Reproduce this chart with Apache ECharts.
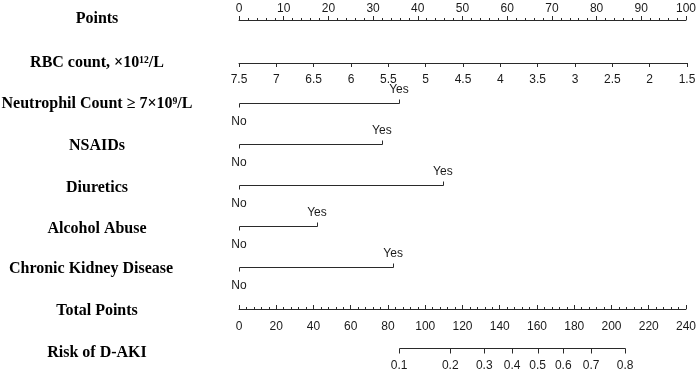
<!DOCTYPE html>
<html>
<head>
<meta charset="utf-8">
<script src="https://cdn.jsdelivr.net/npm/echarts@6/dist/echarts.min.js"></script>
<style>html,body{margin:0;padding:0;background:#fff}#c{width:699px;height:372px}</style>
</head>
<body>
<div id="c"></div>
<script>
// ---- data ----
const rowLabels = ['Points', 'RBC count, ×10¹²/L', 'Neutrophil Count ≥ 7×10⁹/L', 'NSAIDs', 'Diuretics', 'Alcohol Abuse', 'Chronic Kidney Disease', 'Total Points', 'Risk of D-AKI'];
const pointsTicks = [0, 10, 20, 30, 40, 50, 60, 70, 80, 90, 100];
const rbcTicks = [7.5, 7, 6.5, 6, 5.5, 5, 4.5, 4, 3.5, 3, 2.5, 2, 1.5];
const binaryRows = ['Neutrophil Count ≥ 7×10⁹/L', 'NSAIDs', 'Diuretics', 'Alcohol Abuse', 'Chronic Kidney Disease'];
const yesPoints = [35.7, 31.9, 45.5, 17.4, 34.4];
const totalTicks = [0, 20, 40, 60, 80, 100, 120, 140, 160, 180, 200, 220, 240];
const riskTicks = [0.1, 0.2, 0.3, 0.4, 0.5, 0.6, 0.7, 0.8];
// logistic model linking total points to risk
const totalAtHalfRisk = 160;
const logitPerPoint = 0.0296;
const totalForRisk = p => totalAtHalfRisk + Math.log(p / (1 - p)) / logitPerPoint;

// ---- style ----
const LINE = '#2a2a2a';
const TXT = '#1a1a1a';
const numFont = {fontFamily: 'Liberation Sans, Arial, sans-serif', fontSize: 12, color: TXT};
const L = 239, R = 12;
const px = v => Math.round(v) + 0.5;

const chart = echarts.init(document.getElementById('c'), null, {renderer: 'canvas'});

const rowY = [19, 63, 104, 146, 188, 229, 269, 311, 353];
const rowX = [97, 97, 97, 97, 97, 97, 91, 97, 97];

const option = {
  animation: false,
  backgroundColor: '#fff',
  grid: [
    {left: L, right: R, top: 19, height: 1},
    {left: L, right: R, top: 62, height: 1},
    {left: L, right: R, top: 103, height: 164},
    {left: L, right: R, top: 308, height: 1},
    {left: L, right: R, top: 347, height: 1}
  ],
  xAxis: [
    {
      gridIndex: 0, type: 'value', position: 'top',
      min: pointsTicks[0], max: pointsTicks[pointsTicks.length - 1], interval: pointsTicks[1] - pointsTicks[0],
      axisLine: {show: true, lineStyle: {color: LINE, width: 1}},
      axisTick: {show: true, length: 4, lineStyle: {color: LINE}},
      minorTick: {show: true, splitNumber: 5, length: 2, lineStyle: {color: LINE}},
      axisLabel: Object.assign({margin: 4}, numFont),
      splitLine: {show: false}
    },
    {
      gridIndex: 1, type: 'value', position: 'bottom', inverse: true,
      min: rbcTicks[rbcTicks.length - 1], max: rbcTicks[0], interval: rbcTicks[0] - rbcTicks[1],
      axisLine: {show: true, lineStyle: {color: LINE, width: 1}},
      axisTick: {show: true, length: 4, lineStyle: {color: LINE}},
      axisLabel: Object.assign({margin: 11}, numFont),
      splitLine: {show: false}
    },
    {
      gridIndex: 2, type: 'value', show: false, min: 0, max: 100
    },
    {
      gridIndex: 3, type: 'value', position: 'bottom',
      min: totalTicks[0], max: totalTicks[totalTicks.length - 1], interval: totalTicks[1] - totalTicks[0],
      axisLine: {show: true, lineStyle: {color: LINE, width: 1}},
      axisTick: {show: true, inside: true, length: 4, lineStyle: {color: LINE}},
      minorTick: {show: true, splitNumber: 5, length: 2, lineStyle: {color: LINE}},
      axisLabel: Object.assign({margin: 12}, numFont),
      splitLine: {show: false}
    },
    {
      gridIndex: 4, type: 'value', show: false,
      min: totalTicks[0], max: totalTicks[totalTicks.length - 1]
    }
  ],
  yAxis: [
    {gridIndex: 0, type: 'value', show: false},
    {gridIndex: 1, type: 'value', show: false},
    {gridIndex: 2, type: 'category', show: false, inverse: true, boundaryGap: false, data: binaryRows},
    {gridIndex: 3, type: 'value', show: false},
    {gridIndex: 4, type: 'value', show: false, min: 0, max: 1}
  ],
  graphic: rowLabels.map((t, i) => ({
    type: 'text', x: rowX[i], y: rowY[i],
    style: {
      text: t, fill: '#000', textAlign: 'center', textVerticalAlign: 'middle',
      font: 'bold 16px "Liberation Serif", "Times New Roman", serif'
    }
  })),
  series: [
    {
      type: 'custom', xAxisIndex: 2, yAxisIndex: 2,
      data: yesPoints.map((v, i) => [i, v]),
      renderItem: function (params, api) {
        const idx = api.value(0), yes = api.value(1);
        const p0 = api.coord([0, idx]);
        const p1 = api.coord([yes, idx]);
        const x0 = px(p0[0]), x1 = px(p1[0]), y = px(p0[1]);
        const st = {stroke: LINE, lineWidth: 1};
        return {
          type: 'group',
          children: [
            {type: 'line', shape: {x1: x0, y1: y, x2: x1, y2: y}, style: st},
            {type: 'line', shape: {x1: x0, y1: y, x2: x0, y2: y + 4}, style: st},
            {type: 'line', shape: {x1: x1, y1: y, x2: x1, y2: y - 4}, style: st},
            {type: 'text', x: p0[0], y: p0[1] + 19, style: {text: 'No', fill: TXT, textAlign: 'center', textVerticalAlign: 'middle', font: '12px "Liberation Sans", Arial, sans-serif'}},
            {type: 'text', x: p1[0], y: p1[1] - 13, style: {text: 'Yes', fill: TXT, textAlign: 'center', textVerticalAlign: 'middle', font: '12px "Liberation Sans", Arial, sans-serif'}}
          ]
        };
      }
    },
    {
      type: 'custom', xAxisIndex: 4, yAxisIndex: 4,
      data: [[totalForRisk(riskTicks[0]), totalForRisk(riskTicks[riskTicks.length - 1])]],
      renderItem: function (params, api) {
        const a = api.coord([api.value(0), 0]);
        const b = api.coord([api.value(1), 0]);
        const y = px(a[1]);
        return {type: 'line', shape: {x1: px(a[0]), y1: y, x2: px(b[0]), y2: y}, style: {stroke: LINE, lineWidth: 1}};
      }
    },
    {
      type: 'custom', xAxisIndex: 4, yAxisIndex: 4,
      data: riskTicks.map(p => [totalForRisk(p), p]),
      renderItem: function (params, api) {
        const p = api.coord([api.value(0), 0]);
        const x = px(p[0]), y = px(p[1]);
        const st = {stroke: LINE, lineWidth: 1};
        return {
          type: 'group',
          children: [
            {type: 'line', shape: {x1: x, y1: y, x2: x, y2: y + 5}, style: st},
            {type: 'text', x: p[0], y: p[1] + 18, style: {text: String(api.value(1)), fill: TXT, textAlign: 'center', textVerticalAlign: 'middle', font: '12px "Liberation Sans", Arial, sans-serif'}}
          ]
        };
      }
    }
  ]
};
chart.setOption(option);
</script>
</body>
</html>
